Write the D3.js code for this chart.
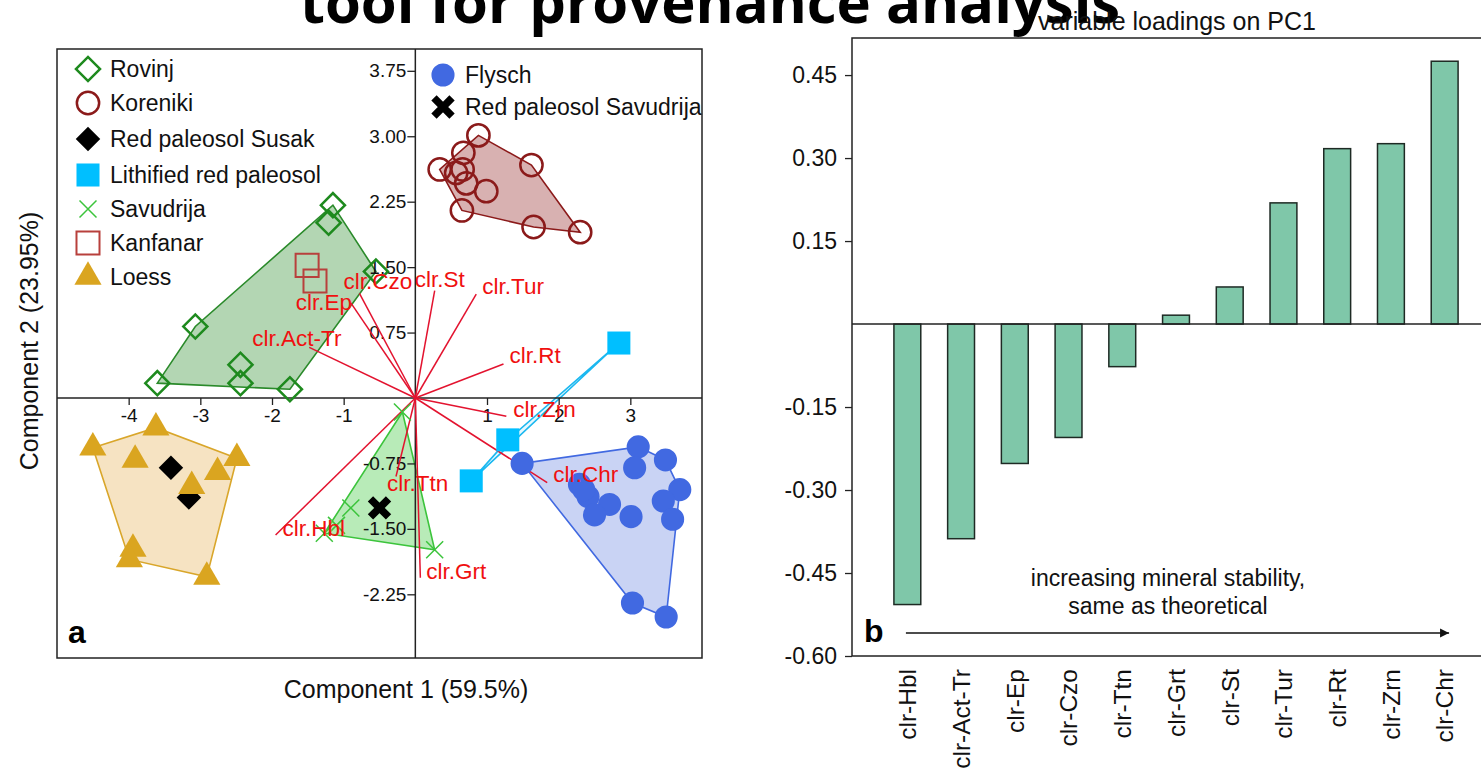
<!DOCTYPE html>
<html>
<head>
<meta charset="utf-8">
<script src="https://cdn.jsdelivr.net/npm/d3@7"></script>
<style>
  body { margin: 0; background: #fff; }
  svg { display: block; font-family: "Liberation Sans", Arial, sans-serif; }
</style>
</head>
<body>
<svg id="chart" width="1481" height="768"></svg>
<script>
// ---- PCA scores [Component 1, Component 2]
const rovinj = [[-1.15, 2.21], [-1.21, 2.01], [-0.55, 1.45], [-3.07, 0.82], [-2.44, 0.38], [-2.44, 0.17], [-3.60, 0.17], [-1.75, 0.10]];
const koreniki = [[0.88, 3.01], [0.67, 2.81], [0.34, 2.62], [0.57, 2.58], [0.66, 2.62], [0.71, 2.46], [0.99, 2.37], [0.65, 2.15], [1.62, 2.67], [1.65, 1.96], [2.30, 1.90]];
const susak = [[-3.41, -0.80], [-3.16, -1.14]];
const lithified = [[0.78, -0.95], [1.29, -0.48], [2.84, 0.63]];
const savudrija = [[-0.18, -0.16], [-0.90, -1.26], [-1.27, -1.55], [-1.10, -1.46], [0.27, -1.74]];
const kanfanar = [[-1.51, 1.52], [-1.40, 1.34]];
const loess = [[-3.62, -0.34], [-4.50, -0.57], [-3.91, -0.71], [-2.49, -0.69], [-2.76, -0.85], [-3.12, -1.01], [-3.94, -1.73], [-3.99, -1.85], [-2.91, -2.05]];
const flysch = [[1.49, -0.75], [3.11, -0.56], [3.06, -0.80], [3.49, -0.71], [2.29, -0.99], [2.41, -1.13], [2.71, -1.22], [2.50, -1.34], [3.01, -1.36], [3.69, -1.05], [3.46, -1.18], [3.59, -1.39], [3.03, -2.35], [3.50, -2.51], [2.35, -1.05]];
const savudrijaPaleosol = [[-0.50, -1.26]];

// ---- variable loadings (biplot arrows)
const loadingNames = ["clr.Hbl", "clr.Act-Tr", "clr.Ep", "clr.Czo", "clr.Ttn", "clr.Grt", "clr.St", "clr.Tur", "clr.Rt", "clr.Zrn", "clr.Chr"];
const arrowPC1 = [-1.95, -1.48, -0.90, -0.78, -0.27, 0.07, 0.27, 0.85, 1.23, 1.27, 1.84];
const arrowPC2 = [-1.57, 0.58, 1.09, 1.20, -0.90, -2.06, 1.23, 1.19, 0.39, -0.21, -0.97];

// ---- panel b: loadings on PC1
const categories = ["clr-Hbl", "clr-Act-Tr", "clr-Ep", "clr-Czo", "clr-Ttn", "clr-Grt", "clr-St", "clr-Tur", "clr-Rt", "clr-Zrn", "clr-Chr"];
const pc1Loadings = [-0.507, -0.388, -0.252, -0.205, -0.077, 0.016, 0.067, 0.219, 0.317, 0.326, 0.475];
const scoreTicksX = [-4, -3, -2, -1, 1, 2, 3];
const scoreTicksY = [3.75, 3.00, 2.25, 1.50, 0.75, -0.75, -1.50, -2.25];
const loadingTicks = [0.45, 0.30, 0.15, -0.15, -0.30, -0.45, -0.60];

const svg = d3.select("#chart");

// title (cut off by the top of the picture)
svg.append("text")
    .attr("x", 710).attr("y", 23)
    .attr("text-anchor", "middle")
    .style("font-family", "'Open Sans', 'Noto Sans', sans-serif")
    .style("font-weight", "bold")
    .style("font-size", "58px")
    .text("tool for provenance analysis");

// ================= panel a =================
const x = d3.scaleLinear().domain([-5, 4]).range([57, 702]);
const y = d3.scaleLinear().domain([-2.98, 4]).range([658, 49]);

const groups = [
    { name: "Rovinj", pts: rovinj, hull: "#b3d6b3", line: "#2a8a2a" },
    { name: "Koreniki", pts: koreniki, hull: "#d8b1b1", line: "#8b1a1a" },
    { name: "Red paleosol Susak", pts: susak },
    { name: "Lithified red paleosol", pts: lithified, hull: "#bfeeff", line: "#1cb8f0" },
    { name: "Savudrija", pts: savudrija, hull: "#b8ebb8", line: "#3cc43c" },
    { name: "Kanfanar", pts: kanfanar },
    { name: "Loess", pts: loess, hull: "#f6e3c2", line: "#d9a62a" },
    { name: "Flysch", pts: flysch, hull: "#c9d3f4", line: "#4169e1" },
    { name: "Red paleosol Savudrija", pts: savudrijaPaleosol }
];

const marker = {
    "Rovinj": { type: d3.symbolSquare, size: 290, rot: 45, fill: "none", stroke: "#1e8a1e", sw: 2.5 },
    "Koreniki": { type: d3.symbolCircle, size: 390, rot: 0, fill: "none", stroke: "#8b1a1a", sw: 2.5 },
    "Red paleosol Susak": { type: d3.symbolSquare, size: 300, rot: 45, fill: "#000", stroke: "none", sw: 0 },
    "Lithified red paleosol": { type: d3.symbolSquare, size: 530, rot: 0, fill: "#00bfff", stroke: "none", sw: 0 },
    "Savudrija": { type: d3.symbolX, size: 190, rot: 0, fill: "none", stroke: "#3cc43c", sw: 1.5 },
    "Kanfanar": { type: d3.symbolSquare, size: 530, rot: 0, fill: "none", stroke: "#b8403c", sw: 2 },
    "Loess": { type: d3.symbolTriangle, size: 320, rot: 0, fill: "#daa520", stroke: "none", sw: 0 },
    "Flysch": { type: d3.symbolCircle, size: 420, rot: 0, fill: "#4169e1", stroke: "none", sw: 0 },
    "Red paleosol Savudrija": { type: d3.symbolX, size: 215, rot: 0, fill: "none", stroke: "#000", sw: 7.5 }
};

const panelA = svg.append("g");

panelA.append("rect")
    .attr("x", x(-5)).attr("y", y(4))
    .attr("width", x(4) - x(-5)).attr("height", y(-2.98) - y(4))
    .attr("fill", "none").attr("stroke", "#222").attr("stroke-width", 1.5);

// convex hulls
groups.filter(g => g.hull).forEach(g => {
    const hull = d3.polygonHull(g.pts.map(p => [x(p[0]), y(p[1])]));
    panelA.append("path")
        .attr("d", "M" + hull.join("L") + "Z")
        .attr("fill", g.hull)
        .attr("fill-opacity", g.name === "Lithified red paleosol" ? 0.4 : 1)
        .attr("stroke", g.line)
        .attr("stroke-width", 1.6);
});

// axes through the origin
panelA.append("line")
    .attr("x1", x(-5)).attr("x2", x(4)).attr("y1", y(0)).attr("y2", y(0))
    .attr("stroke", "#222").attr("stroke-width", 1.5);
panelA.append("line")
    .attr("x1", x(0)).attr("x2", x(0)).attr("y1", y(4)).attr("y2", y(-2.98))
    .attr("stroke", "#222").attr("stroke-width", 1.5);

const xAxis = panelA.append("g")
    .attr("transform", `translate(0,${y(0)})`)
    .call(d3.axisBottom(x).tickValues(scoreTicksX).tickSize(7).tickPadding(4).tickFormat(d => String(d)));
const yAxis = panelA.append("g")
    .attr("transform", `translate(${x(0)},0)`)
    .call(d3.axisLeft(y).tickValues(scoreTicksY).tickSize(8).tickPadding(1).tickFormat(d => d.toFixed(2)));
[xAxis, yAxis].forEach(a => {
    a.select(".domain").remove();
    a.selectAll("line").attr("stroke", "#222").attr("stroke-width", 1.3);
    a.selectAll("text").attr("fill", "#111").style("font-size", "19px").style("font-family", "'Liberation Sans', Arial, sans-serif");
});

// loading arrows
const labelShift = {
    "clr.Hbl": [7, 1], "clr.Act-Tr": [-57, -1], "clr.Ep": [-55, 7], "clr.Czo": [-16, -4],
    "clr.Ttn": [-9, 14], "clr.Grt": [6, 1], "clr.St": [-20, -4], "clr.Tur": [6, 0],
    "clr.Rt": [6, -1], "clr.Zrn": [7, 1], "clr.Chr": [6, -1]
};
const vectors = loadingNames.map((n, i) => ({ name: n, pc1: arrowPC1[i], pc2: arrowPC2[i] }));

panelA.append("g").selectAll("line").data(vectors).enter().append("line")
    .attr("x1", x(0)).attr("y1", y(0))
    .attr("x2", d => x(d.pc1)).attr("y2", d => y(d.pc2))
    .attr("stroke", "#e3132f").attr("stroke-width", 1.5);

// sample points
groups.forEach(g => {
    const m = marker[g.name];
    panelA.append("g").selectAll("path").data(g.pts).enter().append("path")
        .attr("d", d3.symbol().type(m.type).size(m.size))
        .attr("transform", d => `translate(${x(d[0])},${y(d[1])}) rotate(${m.rot})`)
        .attr("fill", m.fill).attr("stroke", m.stroke).attr("stroke-width", m.sw);
});

panelA.append("g").selectAll("text").data(vectors).enter().append("text")
    .attr("x", d => x(d.pc1) + labelShift[d.name][0])
    .attr("y", d => y(d.pc2) + labelShift[d.name][1])
    .attr("fill", "#f01010")
    .style("font-size", "22.5px")
    .text(d => d.name);

// legend
const legendLeft = ["Rovinj", "Koreniki", "Red paleosol Susak", "Lithified red paleosol", "Savudrija", "Kanfanar", "Loess"];
const legendLeftY = [69, 103, 139, 175, 209, 243, 277];
const legendRight = ["Flysch", "Red paleosol Savudrija"];
const legendRightY = [75, 107];

function legend(names, ys, sx, tx) {
    const item = panelA.append("g").selectAll("g").data(names).enter().append("g");
    item.append("path")
        .attr("d", n => d3.symbol().type(marker[n].type).size(marker[n].size)())
        .attr("transform", (n, i) => `translate(${sx},${ys[i]}) rotate(${marker[n].rot})`)
        .attr("fill", n => marker[n].fill).attr("stroke", n => marker[n].stroke)
        .attr("stroke-width", n => marker[n].sw);
    item.append("text")
        .attr("x", tx).attr("y", (n, i) => ys[i])
        .attr("dy", "0.36em")
        .attr("fill", "#111")
        .style("font-size", "23px")
        .text(n => n);
}
legend(legendLeft, legendLeftY, 88, 110);
legend(legendRight, legendRightY, 443, 465);

panelA.append("text")
    .attr("x", 68).attr("y", 643)
    .style("font-weight", "bold").style("font-size", "32px")
    .text("a");

svg.append("text")
    .attr("x", 406).attr("y", 698)
    .attr("text-anchor", "middle")
    .attr("fill", "#111")
    .style("font-size", "25px")
    .text("Component 1 (59.5%)");

svg.append("text")
    .attr("transform", "translate(38,341) rotate(-90)")
    .attr("text-anchor", "middle")
    .attr("fill", "#111")
    .style("font-size", "25px")
    .text("Component 2 (23.95%)");

// ================= panel b =================
const xb = d3.scaleBand().domain(categories).range([852, 1500]).paddingInner(0.5).paddingOuter(0.78);
const yb = d3.scaleLinear().domain([-0.6, 0.517]).range([656, 38]);
const panelB = svg.append("g");

panelB.append("rect")
    .attr("x", 852).attr("y", yb(0.517))
    .attr("width", 1500 - 852).attr("height", yb(-0.6) - yb(0.517))
    .attr("fill", "none").attr("stroke", "#222").attr("stroke-width", 1.5);

panelB.selectAll(".bar").data(categories).enter().append("rect")
    .attr("class", "bar")
    .attr("x", d => xb(d))
    .attr("width", xb.bandwidth())
    .attr("y", (d, i) => yb(Math.max(0, pc1Loadings[i])))
    .attr("height", (d, i) => Math.abs(yb(pc1Loadings[i]) - yb(0)))
    .attr("fill", "#7fc7a9")
    .attr("stroke", "#1e2a24").attr("stroke-width", 1.5);

panelB.append("line")
    .attr("x1", 852).attr("x2", 1500).attr("y1", yb(0)).attr("y2", yb(0))
    .attr("stroke", "#222").attr("stroke-width", 1.5);

const ybAxis = panelB.append("g")
    .attr("transform", "translate(852,0)")
    .call(d3.axisLeft(yb).tickValues(loadingTicks).tickSize(7).tickPadding(8).tickFormat(d => d.toFixed(2)));
ybAxis.select(".domain").remove();
ybAxis.selectAll("line").attr("stroke", "#222").attr("stroke-width", 1.3);
ybAxis.selectAll("text").attr("fill", "#111").style("font-size", "23px").style("font-family", "'Liberation Sans', Arial, sans-serif");

panelB.selectAll(".cat").data(categories).enter().append("text")
    .attr("class", "cat")
    .attr("transform", d => `translate(${xb(d) + xb.bandwidth() / 2},669) rotate(-90)`)
    .attr("text-anchor", "end")
    .attr("dy", "0.36em")
    .attr("fill", "#111")
    .style("font-size", "24.5px")
    .text(d => d);

panelB.append("text")
    .attr("x", 1038).attr("y", 30)
    .attr("fill", "#111")
    .style("font-size", "25px")
    .text("variable loadings on PC1");

const note = panelB.append("text").attr("text-anchor", "middle").attr("fill", "#111").style("font-size", "23px");
note.append("tspan").attr("x", 1168).attr("y", 586).text("increasing mineral stability,");
note.append("tspan").attr("x", 1168).attr("y", 614).text("same as theoretical");

svg.append("defs").append("marker")
    .attr("id", "head").attr("viewBox", "0 0 10 10")
    .attr("refX", 10).attr("refY", 5)
    .attr("markerWidth", 9).attr("markerHeight", 15).attr("markerUnits", "userSpaceOnUse")
    .attr("orient", "auto")
    .append("path").attr("d", "M0,0L10,5L0,10Z").attr("fill", "#111");

const arrowStart = xb(categories[0]) + 12;
const arrowEnd = xb(categories[categories.length - 1]) + xb.bandwidth() - 9;
panelB.append("line")
    .attr("x1", arrowStart).attr("x2", arrowEnd).attr("y1", 633).attr("y2", 633)
    .attr("stroke", "#111").attr("stroke-width", 1.5)
    .attr("marker-end", "url(#head)");

panelB.append("text")
    .attr("x", 864).attr("y", 642)
    .style("font-weight", "bold").style("font-size", "32px")
    .text("b");
</script>
</body>
</html>
